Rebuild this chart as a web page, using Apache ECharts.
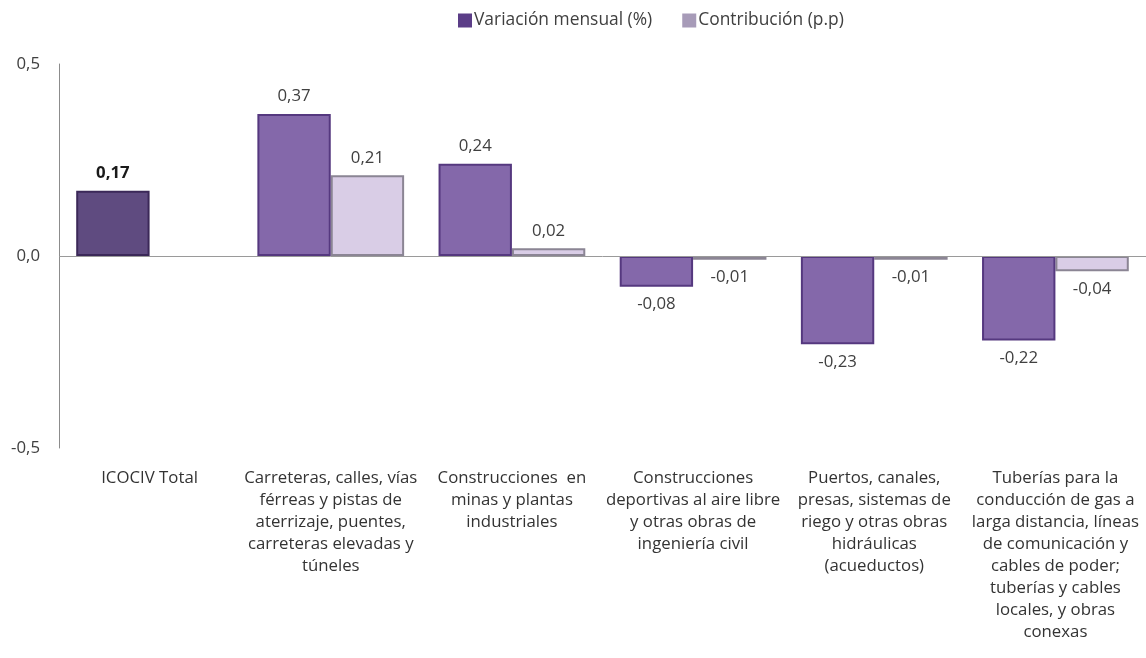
<!DOCTYPE html>
<html>
<head>
<meta charset="utf-8">
<script src="https://cdn.jsdelivr.net/npm/echarts@6/dist/echarts.min.js"></script>
<style>html,body{margin:0;padding:0;background:#fff;}#c{width:1146px;height:658px;}</style>
</head>
<body>
<div id="c"></div>
<script>
const categories = [
  "ICOCIV Total",
  "Carreteras, calles, vías\nférreas y pistas de\naterrizaje, puentes,\ncarreteras elevadas y\ntúneles",
  "Construcciones  en\nminas y plantas\nindustriales",
  "Construcciones\ndeportivas al aire libre\ny otras obras de\ningeniería civil",
  "Puertos, canales,\npresas, sistemas de\nriego y otras obras\nhidráulicas\n(acueductos)",
  "Tuberías para la\nconducción de gas a\nlarga distancia, líneas\nde comunicación y\ncables de poder;\ntuberías y cables\nlocales, y obras\nconexas"
];
const variacionMensual = [0.17, 0.37, 0.24, -0.08, -0.23, -0.22];
const contribucion = [null, 0.21, 0.02, -0.01, -0.01, -0.04];
const seriesNames = ["Variación mensual (%)", "Contribución (p.p)"];

const FONT = "Open Sans";
const FS = 16.8;
const fmt = v => v.toFixed(2).replace('.', ',');

const s1Data = variacionMensual.map((v, i) => {
  const item = {
    value: v,
    label: { position: v >= 0 ? 'top' : 'bottom' }
  };
  if (i === 0) {
    item.itemStyle = { color: '#5f4b80', borderColor: '#3b2858' };
    item.label.fontWeight = 'bold';
    item.label.color = '#1a1a1a';
  }
  return item;
});
const s2Data = contribucion.map(v => v === null ? null : {
  value: v,
  label: { position: v >= 0 ? 'top' : 'bottom' }
});

const chart = echarts.init(document.getElementById('c'), null, { renderer: 'canvas' });
chart.setOption({
  animation: false,
  textStyle: { fontFamily: FONT },
  legend: {
    top: 7,
    left: 453,
    itemWidth: 14,
    itemHeight: 14,
    itemGap: 30,
    textStyle: { fontFamily: FONT, fontSize: 17.4, color: '#404040', padding: [0, 0, 0, -3] },
    data: [
      { name: seriesNames[0], icon: 'rect', itemStyle: { color: '#5b3d87', borderWidth: 0 } },
      { name: seriesNames[1], icon: 'rect', itemStyle: { color: '#a79bb8', borderWidth: 0 } }
    ]
  },
  grid: { left: 59, right: 0, top: 64, bottom: 210, containLabel: false },
  xAxis: {
    type: 'category',
    data: categories,
    position: 'bottom',
    axisLine: { show: false },
    axisTick: { show: false },
    axisLabel: {
      interval: 0,
      fontFamily: FONT,
      fontSize: FS,
      color: '#333333',
      lineHeight: 22,
      margin: 19,
      verticalAlign: 'top'
    }
  },
  yAxis: {
    type: 'value',
    min: -0.5,
    max: 0.5,
    interval: 0.5,
    axisLine: { show: true, lineStyle: { color: '#8c8c8c', width: 1 } },
    axisTick: { show: false },
    splitLine: { show: false },
    axisLabel: {
      fontFamily: FONT,
      fontSize: FS,
      color: '#404040',
      margin: 19,
      formatter: v => v.toFixed(1).replace('.', ',')
    }
  },
  series: [
    {
      name: seriesNames[0],
      type: 'bar',
      data: s1Data,
      barGap: '0%',
      barCategoryGap: '19%',
      itemStyle: { color: '#8468aa', borderColor: '#55387f', borderWidth: 2 },
      label: {
        show: true,
        fontFamily: FONT,
        fontSize: FS,
        color: '#404040',
        distance: 9,
        formatter: p => fmt(p.value)
      },
      markLine: {
        silent: true,
        symbol: 'none',
        label: { show: false },
        lineStyle: { color: '#9a9a9a', width: 1, type: 'solid' },
        data: [{ yAxis: 0 }]
      },
      z: 3
    },
    {
      name: seriesNames[1],
      type: 'bar',
      data: s2Data,
      itemStyle: { color: '#d9cde6', borderColor: '#8b8594', borderWidth: 2 },
      label: {
        show: true,
        fontFamily: FONT,
        fontSize: FS,
        color: '#404040',
        distance: 9,
        formatter: p => fmt(p.value)
      },
      z: 2
    }
  ]
});
</script>
</body>
</html>
